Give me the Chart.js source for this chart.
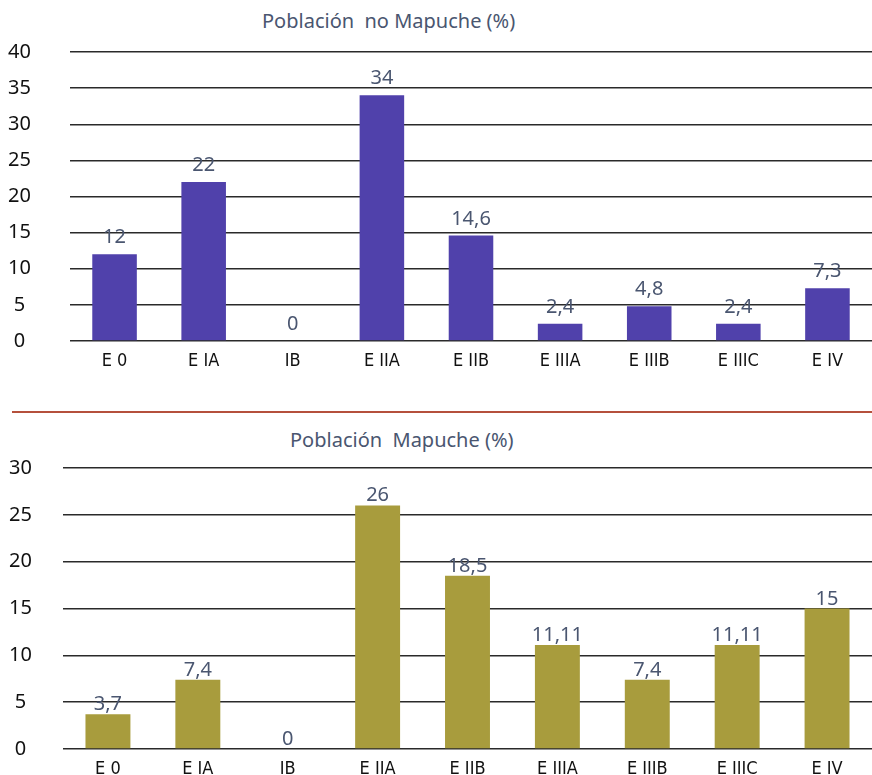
<!DOCTYPE html>
<html>
<head>
<meta charset="utf-8">
<script src="https://cdn.jsdelivr.net/npm/chart.js@4"></script>
<style>
  body { margin: 0; background: #fff; width: 872px; height: 775px; position: relative; overflow: hidden; }
  canvas { position: absolute; left: 0; }
  .titulo { position: absolute; font-family: "Noto Sans", sans-serif; font-size: 20px; color: #4a5670; white-space: pre; }
  #sep { position: absolute; left: 12px; right: 0; top: 411px; height: 2px; background: #b5503c; }
</style>
</head>
<body>
<div class="titulo" style="left:262px; top:7px;">Población  no Mapuche (%)</div>
<canvas id="noMapuche" width="872" height="382" style="top:0"></canvas>
<div id="sep"></div>
<div class="titulo" style="left:290px; top:426px;">Población  Mapuche (%)</div>
<canvas id="mapuche" width="872" height="355" style="top:420px"></canvas>

<script>
// Estadios (categorías)
const estadios = ['E 0', 'E IA', 'IB', 'E IIA', 'E IIB', 'E IIIA', 'E IIIB', 'E IIIC', 'E IV']

// Porcentajes por estadio
const noMapuche = [12, 22, 0, 34, 14.6, 2.4, 4.8, 2.4, 7.3]
const mapuche = [3.7, 7.4, 0, 26, 18.5, 11.11, 7.4, 11.11, 15]

// Etiquetas con coma decimal sobre cada barra
const etiquetas = {
  id: 'etiquetas',
  afterDatasetsDraw(chart, args, opts) {
    const ctx = chart.ctx
    const meta = chart.getDatasetMeta(0)
    ctx.save()
    ctx.font = '20px "Noto Sans", sans-serif'
    ctx.fillStyle = '#4a5670'
    ctx.textAlign = 'center'
    ctx.textBaseline = 'alphabetic'
    meta.data.forEach((bar, i) => {
      const v = chart.data.datasets[0].data[i]
      ctx.fillText(String(v).replace('.', ','), bar.x, bar.y - opts.gap)
    })
    ctx.restore()
  }
}

function grafico(id, datos, color, max, paso, arriba, anchoY, altoX, pad, gap) {
  return new Chart(document.getElementById(id), {
    type: 'bar',
    data: {
      labels: estadios,
      datasets: [{
        data: datos,
        backgroundColor: color,
        barPercentage: 0.5,
        categoryPercentage: 1
      }]
    },
    options: {
      responsive: false,
      animation: false,
      layout: { padding: { top: arriba, right: 0, left: 0, bottom: 0 } },
      plugins: {
        legend: { display: false },
        tooltip: { enabled: false },
        etiquetas: { gap: gap }
      },
      scales: {
        x: {
          grid: { display: false },
          border: { display: false },
          afterFit: (s) => { s.height = altoX },
          ticks: {
            color: '#111',
            padding: 2,
            font: { family: '"DejaVu Sans Condensed", sans-serif', size: 18 }
          }
        },
        y: {
          min: 0,
          max: max,
          grid: { color: '#2a2a2a', lineWidth: 1.5, drawTicks: false },
          border: { display: false },
          afterFit: (s) => {
            s.width = anchoY
            // el padding de las marcas no debe empujar el área del gráfico
            s.paddingTop = 12
            s.paddingBottom = 12
          },
          ticks: {
            stepSize: paso,
            color: '#111',
            crossAlign: 'center',
            padding: pad,
            font: { family: '"Noto Sans", sans-serif', size: 20 }
          }
        }
      }
    },
    plugins: [etiquetas]
  })
}

grafico('noMapuche', noMapuche, '#5041ab', 40, 5, 52, 70, 41, 39, 11)
grafico('mapuche', mapuche, '#a89c3d', 30, 5, 48, 63, 26, 31, 4)
</script>
</body>
</html>
